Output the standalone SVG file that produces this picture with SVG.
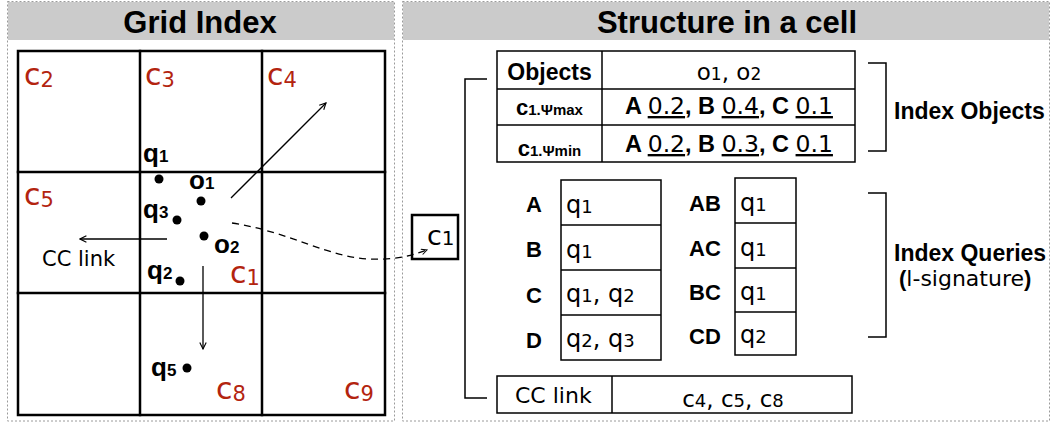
<svg xmlns="http://www.w3.org/2000/svg" width="1051" height="426" viewBox="0 0 1051 426">
  <style>
    .panel { fill: none; stroke: #9a9a9a; stroke-width: 1; stroke-dasharray: 2 2; }
    .band { fill: #cbcbcb; }
    .title { font-family: "Liberation Sans", Arial, sans-serif; font-weight: bold; font-size: 31px; fill: #000; text-anchor: middle; }
    .grid { stroke: #000; stroke-width: 2.5; fill: none; stroke-linecap: square; }
    .cell { font-family: "DejaVu Sans", sans-serif; font-size: 30px; fill: #b3240f; }
    .sub { font-size: 21px; }
    .pt { font-family: "Liberation Sans", Arial, sans-serif; font-weight: bold; font-size: 26px; fill: #000; }
    .ptsub { font-size: 17px; }
    .dot { fill: #000; }
    .thin { stroke: #000; stroke-width: 1.3; fill: none; }
    .tbl { stroke: #000; stroke-width: 1.5; fill: #fff; }
    .tline { stroke: #000; stroke-width: 1.5; }
    .bk { stroke: #000; stroke-width: 1.5; fill: none; }
    .sans { font-family: "DejaVu Sans", sans-serif; fill: #000; }
    .bold { font-family: "Liberation Sans", Arial, sans-serif; font-weight: bold; fill: #000; }
    .u { text-decoration: underline; }
  </style>
  <defs>
    <marker id="open" viewBox="0 0 10 10" refX="9" refY="5" markerWidth="8" markerHeight="8" markerUnits="userSpaceOnUse" orient="auto">
      <path d="M1,1 L9,5 L1,9" fill="none" stroke="#000" stroke-width="1.4"/>
    </marker>
    <marker id="small" viewBox="0 0 10 10" refX="9" refY="5" markerWidth="7" markerHeight="7" markerUnits="userSpaceOnUse" orient="auto">
      <path d="M1,1 L9,5 L1,9" fill="none" stroke="#000" stroke-width="1.5"/>
    </marker>
  </defs>

  <!-- panel frames and title bands -->
  <g id="panel-grid">
    <rect class="band" x="8" y="2" width="386" height="38"/>
    <rect class="panel" x="7.5" y="1.5" width="387" height="419.5"/>
    <text class="title" x="200" y="33">Grid Index</text>
  </g>
  <g id="panel-structure">
    <rect class="band" x="403" y="2" width="646" height="38"/>
    <rect class="panel" x="402.5" y="1.5" width="647" height="419.5"/>
    <text class="title" x="727" y="33">Structure in a cell</text>
  </g>

  <!-- 3x3 grid of cells -->
  <g id="grid">
    <rect class="grid" x="18" y="51" width="367" height="364"/>
    <line class="grid" x1="140" y1="51" x2="140" y2="415"/>
    <line class="grid" x1="262" y1="51" x2="262" y2="415"/>
    <line class="grid" x1="18" y1="172" x2="385" y2="172"/>
    <line class="grid" x1="18" y1="293" x2="385" y2="293"/>
  </g>

  <!-- cell names -->
  <g id="cell-labels">
    <text class="cell" x="24" y="85">c<tspan class="sub" dy="2">2</tspan></text>
    <text class="cell" x="145" y="85">c<tspan class="sub" dy="2">3</tspan></text>
    <text class="cell" x="267" y="85">c<tspan class="sub" dy="2">4</tspan></text>
    <text class="cell" x="24" y="205">c<tspan class="sub" dy="2">5</tspan></text>
    <text class="cell" x="230" y="283">c<tspan class="sub" dy="2">1</tspan></text>
    <text class="cell" x="216" y="399">c<tspan class="sub" dy="2">8</tspan></text>
    <text class="cell" x="344" y="399">c<tspan class="sub" dy="2">9</tspan></text>
  </g>

  <!-- objects and queries located in the grid -->
  <g id="points">
    <text class="pt" x="143" y="162">q<tspan class="ptsub">1</tspan></text>
    <circle class="dot" cx="159" cy="179" r="4.5"/>
    <text class="pt" x="189" y="189">o<tspan class="ptsub">1</tspan></text>
    <circle class="dot" cx="201" cy="201" r="4.5"/>
    <text class="pt" x="143" y="218">q<tspan class="ptsub">3</tspan></text>
    <circle class="dot" cx="177" cy="220" r="4.5"/>
    <circle class="dot" cx="204" cy="236" r="4.5"/>
    <text class="pt" x="214" y="253">o<tspan class="ptsub">2</tspan></text>
    <text class="pt" x="147" y="279">q<tspan class="ptsub">2</tspan></text>
    <circle class="dot" cx="180" cy="281" r="4.5"/>
    <text class="pt" x="151" y="376">q<tspan class="ptsub">5</tspan></text>
    <circle class="dot" cx="187" cy="368" r="4.5"/>
  </g>

  <!-- cell record box -->
  <g id="cell-c1">
    <rect x="412" y="215" width="46" height="44" fill="#fff" stroke="#000" stroke-width="2.5"/>
    <text class="sans" x="427" y="245" font-size="27">c<tspan font-size="20">1</tspan></text>
  </g>

  <!-- arrows: cell-to-cell links and the pointer to the cell record -->
  <g id="connectors">
    <line class="thin" x1="231" y1="198" x2="326" y2="103" marker-end="url(#open)"/>
    <line class="thin" x1="167" y1="239" x2="80" y2="239" marker-end="url(#open)"/>
    <line class="thin" x1="203" y1="266" x2="203" y2="349" marker-end="url(#open)"/>
    <path class="thin" d="M232,223 C290,232 330,258 370,259 C395,260 410,256 427,250" stroke-dasharray="7 5" marker-end="url(#small)"/>
    <text class="sans" x="42" y="266" font-size="21">CC link</text>
  </g>

  <!-- bracket joining the record to its parts -->
  <g id="record-bracket">
    <path class="bk" d="M487,79 H465 V398 H487"/>
  </g>

  <!-- objects table -->
  <g id="objects-table">
    <rect class="tbl" x="497" y="51" width="358" height="111"/>
    <line class="tline" x1="602" y1="51" x2="602" y2="162"/>
    <line class="tline" x1="497" y1="89" x2="855" y2="89"/>
    <line class="tline" x1="497" y1="125" x2="855" y2="125"/>
    <text class="bold" x="549.5" y="80" font-size="23" text-anchor="middle">Objects</text>
    <text class="sans" x="729" y="80" font-size="23" text-anchor="middle">o<tspan font-size="17">1</tspan>, o<tspan font-size="17">2</tspan></text>
    <text class="bold" x="549.5" y="115" font-size="22" text-anchor="middle">c<tspan font-size="15">1.Ψmax</tspan></text>
    <text class="bold" x="549.5" y="156" font-size="22" text-anchor="middle">c<tspan font-size="15">1.Ψmin</tspan></text>
    <text x="729" y="114" font-size="23.5" text-anchor="middle"><tspan class="bold">A </tspan><tspan class="sans u">0.2</tspan><tspan class="bold">, B </tspan><tspan class="sans u">0.4</tspan><tspan class="bold">, C </tspan><tspan class="sans u">0.1</tspan></text>
    <text x="729" y="152" font-size="23.5" text-anchor="middle"><tspan class="bold">A </tspan><tspan class="sans u">0.2</tspan><tspan class="bold">, B </tspan><tspan class="sans u">0.3</tspan><tspan class="bold">, C </tspan><tspan class="sans u">0.1</tspan></text>
  </g>

  <!-- single-keyword query lists -->
  <g id="queries-single">
    <rect class="tbl" x="561" y="180" width="100" height="180"/>
    <line class="tline" x1="561" y1="225" x2="661" y2="225"/>
    <line class="tline" x1="561" y1="270" x2="661" y2="270"/>
    <line class="tline" x1="561" y1="315" x2="661" y2="315"/>
    <text class="bold" x="534" y="212" font-size="22" text-anchor="middle">A</text>
    <text class="bold" x="534" y="257" font-size="22" text-anchor="middle">B</text>
    <text class="bold" x="534" y="303" font-size="22" text-anchor="middle">C</text>
    <text class="bold" x="534" y="348" font-size="22" text-anchor="middle">D</text>
    <text class="sans" x="566" y="213" font-size="24">q<tspan font-size="18">1</tspan></text>
    <text class="sans" x="566" y="258" font-size="24">q<tspan font-size="18">1</tspan></text>
    <text class="sans" x="566" y="302" font-size="24">q<tspan font-size="18">1</tspan>, q<tspan font-size="18">2</tspan></text>
    <text class="sans" x="566" y="347" font-size="24">q<tspan font-size="18">2</tspan>, q<tspan font-size="18">3</tspan></text>
  </g>

  <!-- keyword-pair query lists -->
  <g id="queries-pairs">
    <rect class="tbl" x="735" y="178" width="61" height="177"/>
    <line class="tline" x1="735" y1="223" x2="796" y2="223"/>
    <line class="tline" x1="735" y1="268" x2="796" y2="268"/>
    <line class="tline" x1="735" y1="312" x2="796" y2="312"/>
    <text class="bold" x="705" y="211" font-size="22" text-anchor="middle">AB</text>
    <text class="bold" x="705" y="256" font-size="22" text-anchor="middle">AC</text>
    <text class="bold" x="705" y="300" font-size="22" text-anchor="middle">BC</text>
    <text class="bold" x="705" y="344" font-size="22" text-anchor="middle">CD</text>
    <text class="sans" x="740" y="211" font-size="24">q<tspan font-size="18">1</tspan></text>
    <text class="sans" x="740" y="256" font-size="24">q<tspan font-size="18">1</tspan></text>
    <text class="sans" x="740" y="300" font-size="24">q<tspan font-size="18">1</tspan></text>
    <text class="sans" x="740" y="343" font-size="24">q<tspan font-size="18">2</tspan></text>
  </g>

  <!-- neighbour-cell link table -->
  <g id="cc-link-table">
    <rect class="tbl" x="497" y="376" width="355" height="37"/>
    <line class="tline" x1="612" y1="376" x2="612" y2="413"/>
    <text class="sans" x="515" y="403" font-size="22">CC link</text>
    <text class="sans" x="733" y="407" font-size="23" text-anchor="middle">c<tspan font-size="18">4</tspan>, c<tspan font-size="18">5</tspan>, c<tspan font-size="18">8</tspan></text>
  </g>

  <!-- group brackets and their captions -->
  <g id="index-objects">
    <path class="bk" d="M868,63 H886 V151 H868"/>
    <text class="bold" x="894" y="119" font-size="23">Index Objects</text>
  </g>
  <g id="index-queries">
    <path class="bk" d="M868,193 H886 V337 H868"/>
    <text class="bold" x="894" y="261" font-size="23">Index Queries</text>
    <text x="899" y="286" font-size="22"><tspan class="bold">(</tspan><tspan class="sans">l-signature</tspan><tspan class="bold">)</tspan></text>
  </g>
</svg>
